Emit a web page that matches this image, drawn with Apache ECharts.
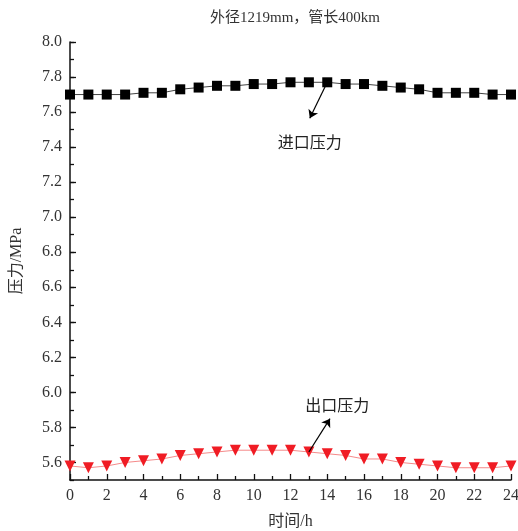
<!DOCTYPE html>
<html>
<head>
<meta charset="utf-8">
<style>
  html, body { margin: 0; padding: 0; background: #fff; }
  #chart { width: 518px; height: 531px; }
</style>
<script src="https://cdn.jsdelivr.net/npm/echarts@6/dist/echarts.min.js"></script>
</head>
<body>
<div id="chart"></div>
<script>
// Hourly pipeline pressures over one day (outer diameter 1219 mm, length 400 km)
const hours = [0,1,2,3,4,5,6,7,8,9,10,11,12,13,14,15,16,17,18,19,20,21,22,23,24];
const inletPressure = [7.70,7.70,7.70,7.70,7.71,7.71,7.73,7.74,7.75,7.75,7.76,7.76,7.77,7.77,7.77,7.76,7.76,7.75,7.74,7.73,7.71,7.71,7.71,7.70,7.70];
const outletPressure = [5.58,5.57,5.58,5.60,5.61,5.62,5.64,5.65,5.66,5.67,5.67,5.67,5.67,5.66,5.65,5.64,5.62,5.62,5.60,5.59,5.58,5.57,5.57,5.57,5.58];
const yMajorTicks = [5.6,5.8,6.0,6.2,6.4,6.6,6.8,7.0,7.2,7.4,7.6,7.8,8.0];

const serif = 'Liberation Serif, Times New Roman, DejaVu Serif, Noto Sans CJK SC, serif';

const chart = echarts.init(document.getElementById('chart'), null, { renderer: 'canvas' });

const pairs = (ys) => hours.map((h, i) => [h, ys[i]]);

chart.setOption({
  animation: false,
  backgroundColor: '#fff',
  title: {
    text: '外径1219mm，管长400km',
    left: 290,
    top: 6,
    textAlign: 'center',
    textStyle: { fontFamily: serif, fontSize: 15, fontWeight: 'normal', color: '#333' }
  },
  grid: { left: 70, right: 7, top: 42, bottom: 51, containLabel: false, outerBoundsMode: 'none' },
  xAxis: {
    type: 'value',
    min: 0, max: 24, interval: 2,
    name: '时间/h',
    nameLocation: 'middle',
    nameGap: 34,
    nameTextStyle: { fontFamily: serif, fontSize: 16, color: '#333' },
    axisLine: { show: true, lineStyle: { color: '#111', width: 1.5 } },
    axisTick: { show: true, inside: true, length: 6, lineStyle: { color: '#111', width: 1.3 } },
    minorTick: { show: true, splitNumber: 2, length: 4, lineStyle: { color: '#111', width: 1.3 } },
    axisLabel: { fontFamily: serif, fontSize: 16, color: '#333', margin: 8 },
    splitLine: { show: false }
  },
  yAxis: [
    {
      type: 'value',
      min: 5.5, max: 8.0,
      name: '压力/MPa',
      nameLocation: 'middle',
      nameGap: 45,
      nameTextStyle: { fontFamily: serif, fontSize: 16, color: '#333' },
      axisLine: { show: true, lineStyle: { color: '#111', width: 1.5 } },
      axisTick: { show: true, inside: true, length: 6, customValues: yMajorTicks, lineStyle: { color: '#111', width: 1.3 } },
      axisLabel: { customValues: yMajorTicks, fontFamily: serif, fontSize: 16, color: '#333', margin: 8,
                   formatter: (v) => v.toFixed(1) },
      splitLine: { show: false }
    },
    {
      // minor ticks every 0.1 MPa
      type: 'value',
      position: 'left',
      min: 5.5, max: 8.0, interval: 0.1,
      axisLine: { show: false },
      axisTick: { show: true, inside: true, length: 4, lineStyle: { color: '#111', width: 1.3 } },
      axisLabel: { show: false },
      splitLine: { show: false }
    }
  ],
  series: [
    {
      name: '进口压力',
      type: 'line',
      data: pairs(inletPressure),
      symbol: 'rect',
      symbolSize: 10,
      itemStyle: { color: '#000' },
      lineStyle: { color: '#444', width: 1 },
      markLine: {
        silent: true,
        symbol: ['none', 'arrow'],
        symbolSize: 8,
        lineStyle: { color: '#000', width: 1.2, type: 'solid' },
        label: { show: false },
        data: [[{ coord: [14, 7.77] }, { coord: [13.05, 7.565] }]]
      },
      markPoint: {
        silent: true,
        symbol: 'circle',
        symbolSize: 0,
        label: { show: true, position: 'inside', formatter: '{b}', fontFamily: serif, fontSize: 16, color: '#222' },
        data: [{ name: '进口压力', coord: [13.05, 7.42] }]
      }
    },
    {
      name: '出口压力',
      type: 'line',
      data: pairs(outletPressure),
      symbol: 'triangle',
      symbolRotate: 180,
      symbolSize: 11,
      itemStyle: { color: '#f01c24' },
      lineStyle: { color: '#f58a8a', width: 1 },
      markLine: {
        silent: true,
        symbol: ['none', 'arrow'],
        symbolSize: 8,
        lineStyle: { color: '#000', width: 1.2, type: 'solid' },
        label: { show: false },
        data: [[{ coord: [13, 5.66] }, { coord: [14.15, 5.85] }]]
      },
      markPoint: {
        silent: true,
        symbol: 'circle',
        symbolSize: 0,
        label: { show: true, position: 'inside', formatter: '{b}', fontFamily: serif, fontSize: 16, color: '#222' },
        data: [{ name: '出口压力', coord: [14.55, 5.92] }]
      }
    }
  ]
});
</script>
</body>
</html>
